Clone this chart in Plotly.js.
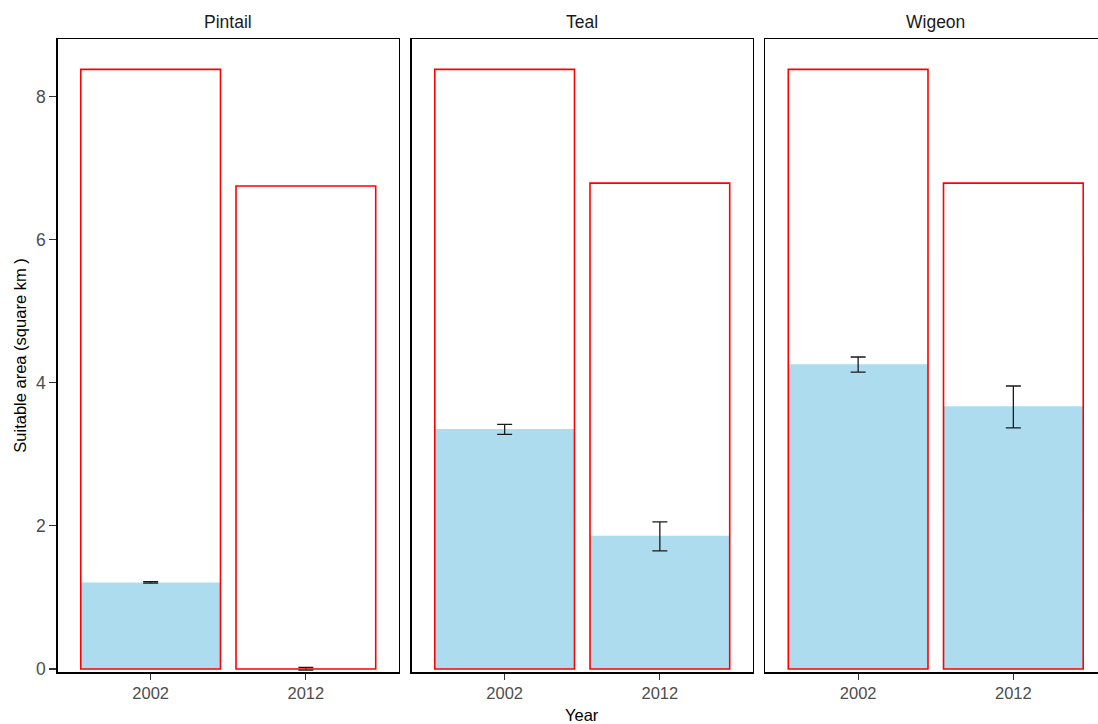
<!DOCTYPE html>
<html>
<head>
<meta charset="utf-8">
<script src="https://cdn.plot.ly/plotly-3.0.1.min.js"></script>
<style>
  html, body { margin: 0; padding: 0; background: #fff; overflow: hidden; }
  #chart { width: 1110px; height: 724px; }
</style>
</head>
<body>
<div id="chart"></div>
<script>
// Survey years and species panels
const years = ['2002', '2012'];
const species = ['Pintail', 'Teal', 'Wigeon'];

// Total available area per year (square km)
const pintailTotal = [8.38, 6.75];
const tealTotal = [8.38, 6.79];
const wigeonTotal = [8.38, 6.79];

// Suitable area per year (square km) with lower / upper error limits
const pintailSuitable = [1.21, 0.005];
const pintailLow = [1.20, -0.014];
const pintailHigh = [1.222, 0.024];

const tealSuitable = [3.355, 1.863];
const tealLow = [3.28, 1.65];
const tealHigh = [3.42, 2.055];

const wigeonSuitable = [4.26, 3.672];
const wigeonLow = [4.15, 3.37];
const wigeonHigh = [4.36, 3.955];

const W = 1110, H = 724;
const FONT = 'Liberation Sans, Arial, sans-serif';

// Panel extents in pixels
const panelsPx = [[57.5, 399], [411.5, 753], [765, 1106.5]];
const yTopPx = 39.3, yBotPx = 672.3;

const groups = [
  { total: pintailTotal, val: pintailSuitable, lo: pintailLow, hi: pintailHigh },
  { total: tealTotal, val: tealSuitable, lo: tealLow, hi: tealHigh },
  { total: wigeonTotal, val: wigeonSuitable, lo: wigeonLow, hi: wigeonHigh }
];

const traces = [];
groups.forEach((g, i) => {
  const xa = i === 0 ? 'x' : 'x' + (i + 1);
  const ya = i === 0 ? 'y' : 'y' + (i + 1);
  traces.push({
    type: 'bar', x: years, y: g.val, xaxis: xa, yaxis: ya, width: 0.9,
    marker: { color: '#ADDCEE', line: { width: 0 } },
    error_y: {
      type: 'data', symmetric: false,
      array: g.hi.map((h, k) => h - g.val[k]),
      arrayminus: g.val.map((v, k) => v - g.lo[k]),
      color: '#1a1a1a', thickness: 1.3, width: 7.5
    },
    hoverinfo: 'skip', showlegend: false
  });
  traces.push({
    type: 'bar', x: years, y: g.total, xaxis: xa, yaxis: ya, width: 0.9,
    marker: { color: 'rgba(0,0,0,0)', line: { color: '#FF0000', width: 1.6 } },
    hoverinfo: 'skip', showlegend: false
  });
});

const yDomain = [1 - yBotPx / H, 1 - yTopPx / H];
const layout = {
  width: W, height: H,
  margin: { l: 0, r: 0, t: 0, b: 0 },
  paper_bgcolor: '#fff', plot_bgcolor: '#fff',
  barmode: 'overlay',
  font: { family: FONT, color: '#4D4D4D' },
  annotations: [],
  showlegend: false
};

panelsPx.forEach((p, i) => {
  const sfx = i === 0 ? '' : String(i + 1);
  layout['xaxis' + sfx] = {
    domain: [p[0] / W, p[1] / W],
    anchor: 'y' + sfx,
    type: 'category', range: [-0.6, 1.6], fixedrange: true,
    showline: true, mirror: true, linecolor: '#000', linewidth: 1.3,
    showgrid: false, zeroline: false,
    ticks: 'outside', ticklen: 6, tickwidth: 1.1, tickcolor: '#333',
    tickfont: { family: FONT, size: 16.5, color: '#4D4D4D' }
  };
  layout['yaxis' + sfx] = {
    domain: yDomain,
    anchor: 'x' + sfx,
    range: [-0.046, 8.80], fixedrange: true,
    showline: true, mirror: true, linecolor: '#000', linewidth: 1.3,
    showgrid: false, zeroline: false,
    tickvals: [0, 2, 4, 6, 8],
    ticks: i === 0 ? 'outside' : '', ticklen: 7, tickwidth: 1.1, tickcolor: '#333',
    showticklabels: i === 0,
    tickfont: { family: FONT, size: 17.5, color: '#4D4D4D' }
  };
  if (i > 0) layout['yaxis' + sfx].matches = 'y';
  layout.annotations.push({
    text: species[i], xref: 'paper', yref: 'paper',
    x: (p[0] + p[1]) / 2 / W, y: 1 - 22 / H,
    xanchor: 'center', yanchor: 'middle', showarrow: false,
    font: { family: FONT, size: 17.5, color: '#1A1A1A' }
  });
});

layout.annotations.push({
  text: 'Year', xref: 'paper', yref: 'paper',
  x: 582 / W, y: 1 - 715 / H, xanchor: 'center', yanchor: 'middle',
  showarrow: false, font: { family: FONT, size: 16.5, color: '#000' }
});
layout.annotations.push({
  text: 'Suitable area (square km )', xref: 'paper', yref: 'paper',
  x: 20 / W, y: 1 - 355.7 / H, xanchor: 'center', yanchor: 'middle',
  textangle: -90, showarrow: false, font: { family: FONT, size: 16.5, color: '#000' }
});

Plotly.newPlot('chart', traces, layout, { staticPlot: true, displayModeBar: false });
</script>
</body>
</html>
